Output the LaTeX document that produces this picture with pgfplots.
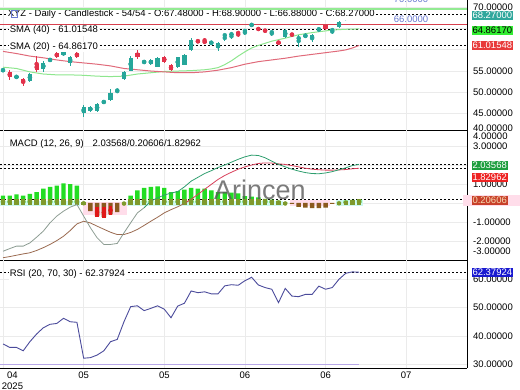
\documentclass[border=0pt]{standalone}
\usepackage{pgfplots}
\pgfplotsset{compat=1.18}
\usepackage{pgfplotstable}
\usepackage{fontspec}
\setmainfont{Liberation Sans}
\newcommand\fs{\fontsize{9.5}{11}\selectfont}
\definecolor{cup}{HTML}{26A69A}
\definecolor{cdn}{HTML}{E2324B}
\definecolor{smag}{HTML}{8EE68E}
\definecolor{smar}{HTML}{E06A7A}
\definecolor{lvlg}{HTML}{92EA92}
\definecolor{lvlr}{HTML}{D8404F}
\definecolor{hgreen}{HTML}{22DD22}
\definecolor{holive}{HTML}{7E9A2C}
\definecolor{hbrown}{HTML}{8A5A1E}
\definecolor{hred}{HTML}{E01818}
\definecolor{bcyan}{HTML}{CFF8F0}
\definecolor{bpink}{HTML}{FFDDEA}
\definecolor{mgray}{HTML}{8C9C92}
\definecolor{mgreen}{HTML}{2E9E6E}
\definecolor{sbrown}{HTML}{9A6A50}
\definecolor{sred}{HTML}{D8405A}
\definecolor{rsic}{HTML}{4B4B9B}
\definecolor{rsil}{HTML}{B8A8E8}
\definecolor{lvl}{HTML}{6A7AD0}
\definecolor{gridc}{HTML}{EBEBEB}
\definecolor{bxteal}{HTML}{2FA79C}
\definecolor{bxgreen}{HTML}{33EE33}
\definecolor{bxred}{HTML}{E83A3A}
\definecolor{bxdg}{HTML}{1E9E3E}
\definecolor{bxred2}{HTML}{EE2222}
\definecolor{bxbr}{HTML}{C8402A}
\definecolor{bxblue}{HTML}{1A1AD0}
\definecolor{bxtxt}{HTML}{F5D9B0}
\definecolor{wm}{HTML}{5A5A5A}

\pgfplotstableread{
i o h l c
0 55.1 55.6 54.8 55.3
2 53.5 54.0 53.3 53.7
4 52.7 54.5 52.5 54.3
6 55.5 57.4 54.8 56.9
7 57.4 58.0 57.2 57.8
9 58.8 59.7 58.6 59.5
10 56.9 58.5 56.2 58.3
12 45.2 47.1 44.2 46.6
13 45.6 46.9 45.3 46.6
14 45.6 47.5 45.4 47.3
15 47.5 48.2 47.3 48.0
16 48.2 50.8 48.0 49.9
17 50.2 50.9 50.0 50.4
18 53.1 55.0 52.9 54.8
19 55.0 58.5 54.9 58.1
21 57.0 57.6 56.7 57.2
22 56.6 57.8 56.4 57.6
23 56.0 58.3 55.9 58.1
26 55.9 58.4 55.8 58.3
27 56.4 58.9 56.3 58.8
28 59.9 62.7 59.7 62.3
31 61.5 62.0 61.3 61.7
32 60.4 61.9 59.7 61.6
33 63.35 63.5 62.0 63.45
34 63.6 63.8 62.5 63.7
36 64.3 64.6 63.4 64.5
37 65.7 66.3 65.3 65.9
40 64.0 64.3 63.3 64.2
42 63.0 64.8 62.7 64.6
44 62.6 63.5 60.6 62.8
45 63.1 63.8 62.8 63.3
46 62.5 63.6 61.8 63.4
47 64.6 65.1 64.3 65.0
49 64.5 64.8 63.7 64.7
50 65.3 66.8 65.1 66.5
51 67.2 67.9 66.9 67.7
52 67.7 68.3 67.1 68.0
53 67.48 68.9 66.88 68.27
}\candup

\pgfplotstableread{
i o h l c
1 54.8 55.2 53.0 53.6
3 53.1 53.4 51.5 52.2
5 56.6 58.5 54.8 55.2
8 59.2 59.4 58.1 58.3
11 59.2 59.5 58.1 58.3
20 59.2 59.9 57.8 58.3
24 58.3 58.5 56.9 57.1
25 56.4 56.6 55.0 55.2
29 62.3 62.5 61.5 61.6
30 61.9 62.8 61.6 61.7
35 64.0 64.1 63.0 63.85
38 65.0 65.2 64.5 64.7
39 64.6 64.8 64.1 64.3
41 61.8 62.0 61.3 61.5
43 63.9 64.0 63.0 63.2
48 65.8 65.9 64.6 64.8
}\canddn

\pgfplotstableread{
i m s rsi g r
0 -2.54 -2.88 37.2 55.9 59.6
1 -2.40 -2.82 36.0 55.75 59.35
2 -2.27 -2.75 36.0 55.6 59.1
3 -2.27 -2.68 34.8 55.2 58.8
4 -2.10 -2.62 38.0 54.8 58.5
5 -1.80 -2.50 40.7 54.55 58.3
6 -1.48 -2.35 42.9 54.3 58.1
7 -1.04 -2.18 44.1 54.2 57.85
8 -0.69 -1.98 44.4 54.1 57.6
9 -0.43 -1.75 46.2 54.1 57.4
10 -0.22 -1.45 45.0 54.1 57.2
11 -0.08 -1.10 44.8 54.05 57.05
12 -0.69 -0.96 32.2 54.0 56.9
13 -1.30 -1.05 32.4 53.9 56.75
14 -1.83 -1.22 33.3 53.8 56.6
15 -2.18 -1.38 34.8 53.75 56.4
16 -2.18 -1.54 38.0 53.7 56.2
17 -2.13 -1.66 38.8 53.75 55.9
18 -1.57 -1.66 45.0 53.8 55.6
19 -1.04 -1.55 50.3 54.05 55.45
20 -0.52 -1.39 50.6 54.3 55.3
21 -0.25 -1.18 48.9 54.45 55.15
22 0.10 -0.96 49.7 54.6 55.0
23 0.27 -0.75 50.6 54.75 54.9
24 0.42 -0.52 49.4 54.9 54.8
25 0.52 -0.35 46.4 54.95 54.7
26 0.60 -0.20 50.5 55.0 54.6
27 0.85 -0.02 51.5 55.05 54.6
28 1.15 0.20 55.8 55.1 54.6
29 1.35 0.45 55.2 55.2 54.7
30 1.55 0.72 55.5 55.3 54.8
31 1.70 0.98 54.8 55.5 55.0
32 1.87 1.24 54.8 55.8 55.2
33 2.00 1.45 57.6 56.5 55.5
34 2.15 1.62 58.0 57.4 55.8
35 2.30 1.78 57.8 58.5 56.2
36 2.43 1.90 59.4 59.5 56.6
37 2.52 2.00 60.6 60.4 56.9
38 2.50 2.08 57.9 61.0 57.2
39 2.38 2.11 57.0 61.5 57.4
40 2.20 2.10 56.4 62.0 57.6
41 2.03 2.06 51.7 62.35 57.8
42 1.90 2.03 56.7 62.7 58.0
43 1.78 1.97 54.0 63.1 58.25
44 1.68 1.90 53.8 63.5 58.5
45 1.60 1.83 54.6 63.75 58.7
46 1.55 1.78 54.6 64.0 58.9
47 1.54 1.75 57.5 64.2 59.1
48 1.58 1.73 56.4 64.4 59.3
49 1.65 1.73 57.0 64.6 59.5
50 1.75 1.74 59.9 64.7 59.7
51 1.85 1.76 62.0 64.78 59.95
52 1.97 1.80 62.5 64.83 60.4
53 2.03568 1.82962 62.37924 64.86 61.0
}\ind

\pgfplotstableread{
i h
0 0.39
1 0.39
2 0.45
3 0.39
4 0.48
5 0.57
6 0.76
7 0.85
8 0.92
9 1.03
10 0.99
11 0.92
12 0.05
18 0.02
19 0.39
20 0.67
21 0.80
22 0.85
23 0.88
24 0.80
25 0.57
26 0.62
27 0.71
28 0.80
29 0.75
30 0.75
31 0.67
32 0.57
33 0.57
34 0.54
35 0.50
36 0.36
37 0.33
38 0.29
39 0.22
40 0.18
41 0.13
42 0.03
50 0.05
51 0.12
52 0.17
53 0.20606
}\hpos

\pgfplotstableread{
i h
13 -0.43
14 -0.69
15 -0.75
16 -0.60
17 -0.48
43 -0.04
44 -0.20
45 -0.25
46 -0.27
47 -0.27
48 -0.25
49 -0.05
}\hneg

\pgfplotstableread{
i lo hi
14 -0.75 -0.20
15 -0.80 -0.20
16 -0.62 -0.15
}\hredt

\pgfplotsset{panel/.style={
  scale only axis, width=467pt, xmin=-0.45, xmax=69.05,
  axis x line*=bottom, axis y line*=right,
  axis line style={black, line width=0.8pt},
  major tick length=0pt,
  xtick={0,12,24,36,48,60},
  grid=major, grid style={gridc, line width=0.6pt},
  yticklabel style={font=\fs, anchor=west, inner xsep=0pt, xshift=6pt},
  xticklabel style={font=\fs},
}}
\tikzset{dotl/.style={black, line width=0.8pt, dash pattern=on 2pt off 2pt},
  rbox/.style={anchor=west, font=\fs, inner xsep=0.8pt, inner ysep=1.1pt, text height=6.8pt, text depth=0.2pt},
  lab/.style={anchor=base west, font=\fs, inner sep=0.6pt}}

\begin{document}
\begin{tikzpicture}[x=1pt,y=1pt]
\path[use as bounding box] (0,0) rectangle (520,390);
\clip (0,0) rectangle (520,390);

% ---------- price panel ----------
\begin{axis}[panel, at={(0pt,260pt)}, anchor=south west, height=130pt,
  ymin=41.19, ymax=71.64, ytick={45,50,55,60,65,70},
  yticklabels={45.00000,50.00000,55.00000,,,70.00000},
  xticklabels={}]
\addplot[dotl] coordinates {(-0.45,68.27)(69.05,68.27)};
\addplot[dotl] coordinates {(-0.45,64.8617)(69.05,64.8617)};
\addplot[dotl] coordinates {(-0.45,61.01548)(69.05,61.01548)};
\addplot[smag, line width=1pt] table[x=i,y=g]{\ind};
\addplot[smar, line width=1pt] table[x=i,y=r]{\ind};
\addplot[cup, only marks, mark=none, error bars/.cd, y dir=both, y explicit, error mark=none,
  error bar style={line width=0.9pt, draw=cup, solid}]
  table[x=i, y expr=(\thisrow{h}+\thisrow{l})/2, y error expr=(\thisrow{h}-\thisrow{l})/2]{\candup};
\addplot[cdn, only marks, mark=none, error bars/.cd, y dir=both, y explicit, error mark=none,
  error bar style={line width=0.9pt, draw=cdn, solid}]
  table[x=i, y expr=(\thisrow{h}+\thisrow{l})/2, y error expr=(\thisrow{h}-\thisrow{l})/2]{\canddn};
\addplot[cup, only marks, mark=none, error bars/.cd, y dir=both, y explicit, error mark=none,
  error bar style={line width=4.2pt, draw=cup, solid}]
  table[x=i, y expr=(\thisrow{o}+\thisrow{c})/2, y error expr={max(abs(\thisrow{c}-\thisrow{o})/2,0.12)}]{\candup};
\addplot[cdn, only marks, mark=none, error bars/.cd, y dir=both, y explicit, error mark=none,
  error bar style={line width=4.2pt, draw=cdn, solid}]
  table[x=i, y expr=(\thisrow{o}+\thisrow{c})/2, y error expr={max(abs(\thisrow{c}-\thisrow{o})/2,0.12)}]{\canddn};
\addplot[lvlr, line width=0.9pt] coordinates {(-0.45,65.8)(69.05,65.8)};
\end{axis}

% ---------- MACD panel ----------
\begin{axis}[panel, at={(0pt,130pt)}, anchor=south west, height=130pt,
  ymin=-3.0, ymax=3.842, ytick={-2,-1,0,1,2,3},
  yticklabels={-2.00000,-1.00000,,1.00000,,3.00000},
  xticklabels={}]
\addplot[fill=bcyan, draw=none] coordinates {(-0.45,0.13)(11.5,0.13)(11.5,-0.18)(-0.45,-0.18)} -- cycle;
\addplot[fill=bcyan, draw=none] coordinates {(18.5,0.13)(41.6,0.13)(41.6,-0.18)(18.5,-0.18)} -- cycle;
\addplot[fill=bcyan, draw=none] coordinates {(49.6,0.16)(53.5,0.16)(53.5,-0.15)(49.6,-0.15)} -- cycle;
\addplot[fill=bpink, draw=none] coordinates {(11.9,0.05)(18.5,0.05)(18.5,-0.63)(11.9,-0.63)} -- cycle;
\addplot[fill=bpink, draw=none] coordinates {(42.7,0.16)(48.7,0.16)(48.7,-0.14)(42.7,-0.14)} -- cycle;
\addplot[dotl] coordinates {(-0.45,2.03568)(69.05,2.03568)};
\addplot[dotl] coordinates {(-0.45,1.82962)(69.05,1.82962)};
\addplot[dotl] coordinates {(-0.45,0.20606)(69.05,0.20606)};
\addplot[ybar, bar width=4.4pt, bar shift=0pt, fill=hgreen, draw=none] table[x=i,y=h]{\hpos};
\addplot[ybar, bar width=4.4pt, bar shift=0pt, fill=hbrown, draw=none] table[x=i,y=h]{\hneg};
\addplot[holive, only marks, mark=none, error bars/.cd, y dir=both, y explicit, error mark=none,
  error bar style={line width=4.4pt, draw=holive, solid}]
  table[x=i, y expr={(min(\thisrow{h},0.22)-0.08)/2}, y error expr={(min(\thisrow{h},0.22)+0.08)/2}]{\hpos};
\addplot[hred, only marks, mark=none, error bars/.cd, y dir=both, y explicit, error mark=none,
  error bar style={line width=3.4pt, draw=hred, solid}]
  table[x=i, y expr={(\thisrow{lo}+\thisrow{hi})/2}, y error expr={(\thisrow{hi}-\thisrow{lo})/2}]{\hredt};
\addplot[sbrown, line width=0.8pt, restrict x to domain=0:28] table[x=i,y=s]{\ind};
\addplot[sred, line width=0.8pt, restrict x to domain=27:53] table[x=i,y=s]{\ind};
\addplot[mgray, line width=0.8pt, restrict x to domain=0:22] table[x=i,y=m]{\ind};
\addplot[mgreen, line width=0.8pt, restrict x to domain=21:53] table[x=i,y=m]{\ind};
\end{axis}

% ---------- RSI panel ----------
\begin{axis}[panel, at={(0pt,22pt)}, anchor=south west, height=108pt,
  ymin=28.77, ymax=66.67, ytick={30,40,50,60},
  yticklabels={30.00000,40.00000,50.00000,60.00000},
  xticklabels={,05,05,06,06,07}]
\addplot[rsil, line width=1pt] coordinates {(-0.45,30)(53,30)};
\addplot[dotl] coordinates {(-0.45,62.37924)(69.05,62.37924)};
\addplot[rsic, line width=0.9pt] table[x=i,y=rsi]{\ind};
\end{axis}

% ---------- texts ----------
\node[lab, fill=white] at (7,373) {XYZ - Daily - Candlestick - 54/54 - O:67.48000 - H:68.90000 - L:66.88000 - C:68.27000};
\draw[lvl, line width=0.6pt] (11,373) rectangle (17,380);
\begin{scope}
\clip (0,260) rectangle (467,390);
\draw[lvlg, line width=1.3pt] (0,381) -- (467,381);
\end{scope}
\node[lab, text=lvl] at (393,387) {70.0000};
\node[lab, text=lvl] at (393,367.5) {66.0000};
\node[lab, fill=white] at (9,357) {SMA (40) - 61.01548};
\node[lab, fill=white] at (9,340.5) {SMA (20) - 64.86170};
\node[lab] at (9,243.5) {MACD (12, 26, 9)\hspace{9pt}2.03568/0.20606/1.82962};
\node[lab, fill=white] at (9,113) {RSI (20, 70, 30) - 62.37924};
\node[anchor=base west, font=\fontsize{27}{27}\selectfont, text=wm, opacity=0.8, inner sep=0pt] at (214,190) {Arincen};

% right-hand extra labels
\node[anchor=west, font=\fs, inner xsep=0pt] at (473,262) {40.00000};
\node[anchor=west, font=\fs, inner xsep=0pt] at (473,254) {4.00000};
\node[anchor=west, font=\fs, inner xsep=0pt] at (473,139) {-3.00000};

% value boxes
\node[rbox, fill=bxteal, text=white] at (471.5,374.3) {68.27000};
\node[rbox, fill=bxgreen, text=black] at (471.5,359.5) {64.86170};
\node[rbox, fill=bxred, text=white] at (471.5,344.3) {61.01548};
\node[rbox, fill=bxdg, text=white] at (471.5,224.5) {2.03568};
\node[rbox, fill=bxred2, text=white] at (471.5,212.7) {1.82962};
\fill[bpink] (463,184) rectangle (520,195);
\node[rbox, fill=bxbr, text=bxtxt] at (471.5,189.5) {0.20606};
\node[rbox, fill=bxblue, text=white] at (471.5,117.5) {62.37924};
% first date label
\node[anchor=north, font=\fs, inner sep=0pt, align=center] at (12.5,18.8) {04\\2025};
\end{tikzpicture}
\end{document}
